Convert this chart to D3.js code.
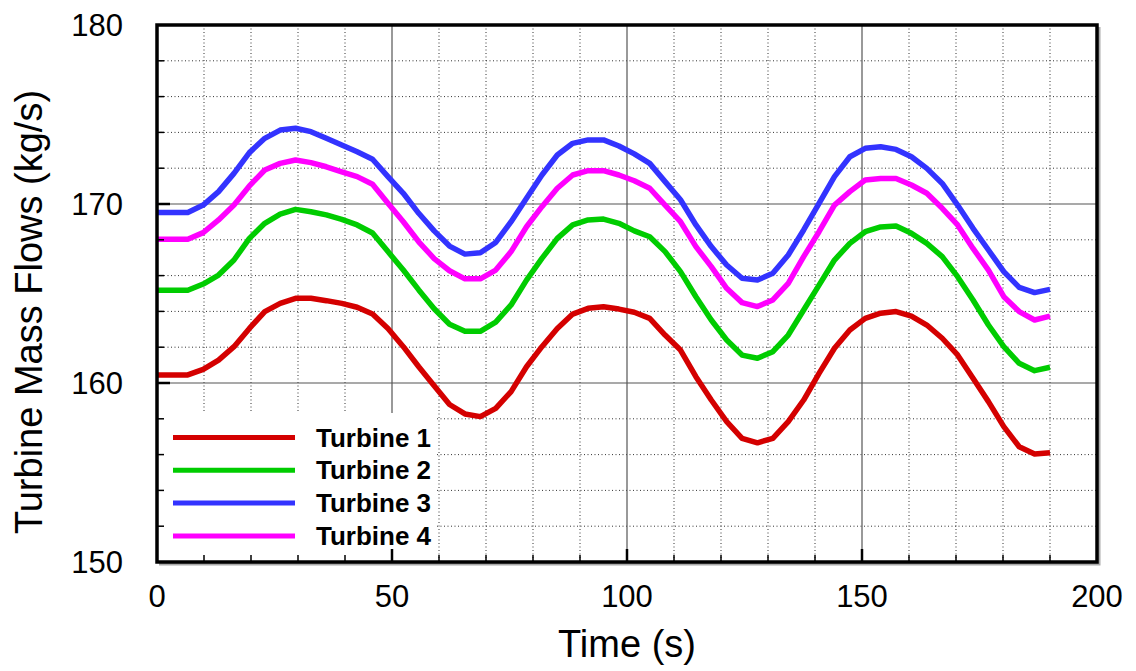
<!DOCTYPE html>
<html>
<head>
<meta charset="utf-8">
<script src="https://cdn.jsdelivr.net/npm/d3@7"></script>
<style>
  html, body { margin: 0; padding: 0; background: #fff; }
  svg { display: block; }
  text { font-family: "Liberation Sans", Arial, Helvetica, sans-serif; fill: #000; }
</style>
</head>
<body>
<svg id="chart" width="1136" height="671"></svg>
<script>
// Sample times (s)
const times = [0, 3.28, 6.55, 9.83, 13.10, 16.38, 19.66, 22.93, 26.21, 29.48, 32.76, 36.03, 39.31,
  42.59, 45.86, 49.14, 52.41, 55.69, 58.97, 62.24, 65.52, 68.79, 72.07, 75.34, 78.62, 81.90,
  85.17, 88.45, 91.72, 95.00, 98.28, 101.55, 104.83, 108.10, 111.38, 114.66, 117.93, 121.21,
  124.48, 127.76, 131.03, 134.31, 137.59, 140.86, 144.14, 147.41, 150.69, 153.97, 157.24,
  160.52, 163.79, 167.07, 170.34, 173.62, 176.90, 180.17, 183.45, 186.72, 190.00];

// Mass flow through each turbine (kg/s)
const turbine1 = [160.45, 160.45, 160.45, 160.76, 161.28, 162.03, 163.05, 163.99, 164.45, 164.73,
  164.73, 164.60, 164.45, 164.23, 163.85, 163.05, 162.03, 160.91, 159.85, 158.80, 158.27, 158.12,
  158.58, 159.52, 160.91, 162.03, 163.05, 163.85, 164.17, 164.26, 164.13, 163.95, 163.61, 162.68,
  161.84, 160.35, 159.05, 157.84, 156.91, 156.66, 156.91, 157.84, 159.05, 160.54, 161.94, 162.96,
  163.61, 163.90, 163.99, 163.74, 163.24, 162.50, 161.57, 160.26, 158.96, 157.56, 156.44, 156.03, 156.10];

const turbine2 = [165.18, 165.18, 165.18, 165.53, 166.03, 166.87, 168.08, 168.92, 169.44, 169.70,
  169.57, 169.39, 169.14, 168.83, 168.38, 167.34, 166.31, 165.20, 164.15, 163.28, 162.89, 162.89,
  163.40, 164.36, 165.75, 166.96, 168.08, 168.83, 169.11, 169.16, 168.92, 168.50, 168.17, 167.34,
  166.22, 164.82, 163.52, 162.40, 161.56, 161.38, 161.75, 162.68, 164.08, 165.47, 166.87, 167.80,
  168.45, 168.72, 168.77, 168.36, 167.80, 167.06, 165.94, 164.64, 163.24, 162.03, 161.10, 160.69, 160.88];

const turbine3 = [169.53, 169.53, 169.53, 169.94, 170.69, 171.71, 172.87, 173.67, 174.13, 174.23,
  174.04, 173.67, 173.30, 172.92, 172.50, 171.53, 170.60, 169.48, 168.50, 167.65, 167.20, 167.28,
  167.85, 169.01, 170.32, 171.62, 172.74, 173.39, 173.58, 173.58, 173.24, 172.80, 172.27, 171.25,
  170.24, 168.83, 167.62, 166.59, 165.85, 165.75, 166.13, 167.15, 168.55, 170.04, 171.53, 172.64,
  173.11, 173.20, 173.05, 172.64, 171.99, 171.15, 169.94, 168.64, 167.43, 166.22, 165.34, 165.05, 165.23];

const turbine4 = [168.03, 168.03, 168.03, 168.40, 169.11, 169.94, 171.01, 171.90, 172.27, 172.46,
  172.31, 172.08, 171.80, 171.53, 171.10, 170.04, 169.01, 167.89, 166.95, 166.27, 165.82, 165.82,
  166.31, 167.34, 168.73, 169.85, 170.88, 171.62, 171.86, 171.86, 171.62, 171.30, 170.88, 169.94,
  169.01, 167.62, 166.50, 165.29, 164.49, 164.27, 164.64, 165.57, 167.06, 168.45, 169.94, 170.69,
  171.34, 171.43, 171.43, 171.06, 170.60, 169.76, 168.83, 167.52, 166.31, 164.82, 163.99, 163.52, 163.74];

const seriesNames = ["Turbine 1", "Turbine 2", "Turbine 3", "Turbine 4"];
const seriesColors = ["#d40000", "#00cc00", "#3333ff", "#ff00ff"];
const seriesValues = [turbine1, turbine2, turbine3, turbine4];

const xMajorTicks = [0, 50, 100, 150, 200];
const yMajorTicks = [150, 160, 170, 180];

const xTitle = "Time (s)";
const yTitle = "Turbine Mass Flows (kg/s)";

// ---- layout ----
const plotL = 157, plotR = 1097, plotT = 25, plotB = 562;
const x = d3.scaleLinear().domain([0, 200]).range([plotL, plotR]);
const y = d3.scaleLinear().domain([150, 180]).range([plotB, plotT]);

const svg = d3.select("#chart");

// minor dotted grid (every 10 s, every 2 kg/s)
const xMinor = d3.range(10, 200, 10).filter(v => v % 50 !== 0);
const yMinor = d3.range(152, 180, 2).filter(v => v % 10 !== 0);

const grid = svg.append("g");
grid.selectAll("line.xm").data(xMinor).join("line")
  .attr("x1", d => x(d)).attr("x2", d => x(d))
  .attr("y1", plotT).attr("y2", plotB)
  .attr("stroke", "#333").attr("stroke-width", 1).attr("stroke-dasharray", "1,2.5");
grid.selectAll("line.ym").data(yMinor).join("line")
  .attr("x1", plotL).attr("x2", plotR)
  .attr("y1", d => y(d)).attr("y2", d => y(d))
  .attr("stroke", "#333").attr("stroke-width", 1).attr("stroke-dasharray", "1,2.5");

// major solid grid
grid.selectAll("line.xM").data([50, 100, 150]).join("line")
  .attr("x1", d => x(d)).attr("x2", d => x(d))
  .attr("y1", plotT).attr("y2", plotB)
  .attr("stroke", "#555").attr("stroke-width", 1.2);
grid.selectAll("line.yM").data([160, 170]).join("line")
  .attr("x1", plotL).attr("x2", plotR)
  .attr("y1", d => y(d)).attr("y2", d => y(d))
  .attr("stroke", "#555").attr("stroke-width", 1.2);

// legend panel covers the grid
const legendTop = 413, legendRight = 436;
svg.append("rect")
  .attr("x", plotL).attr("y", legendTop)
  .attr("width", legendRight - plotL).attr("height", plotB - legendTop)
  .attr("fill", "#fff");

// curves
const line = d3.line()
  .x((d, i) => x(times[i]))
  .y(d => y(d));

svg.append("g").selectAll("path").data(seriesValues).join("path")
  .attr("d", d => line(d))
  .attr("fill", "none")
  .attr("stroke", (d, i) => seriesColors[i])
  .attr("stroke-width", 5.5)
  .attr("stroke-linejoin", "round");

// legend entries
const legend = svg.append("g");
const legendRow = d3.scaleLinear().domain([0, 1]).range([437.5, 470.3]);
seriesNames.forEach((name, i) => {
  const yy = legendRow(i);
  legend.append("line")
    .attr("x1", 173).attr("x2", 295)
    .attr("y1", yy).attr("y2", yy)
    .attr("stroke", seriesColors[i]).attr("stroke-width", 5);
  legend.append("text")
    .attr("x", 316).attr("y", yy + 9)
    .attr("font-size", 26).attr("font-weight", "bold")
    .text(name);
});

// ticks
const ticks = svg.append("g").attr("stroke", "#000");
ticks.selectAll("line.ly").data(yMinor).join("line")
  .attr("x1", plotL).attr("x2", plotL + 7)
  .attr("y1", d => y(d)).attr("y2", d => y(d)).attr("stroke-width", 1.5);
ticks.selectAll("line.lY").data([160, 170]).join("line")
  .attr("x1", plotL).attr("x2", plotL + 13)
  .attr("y1", d => y(d)).attr("y2", d => y(d)).attr("stroke-width", 2.5);
ticks.selectAll("line.bx").data(xMinor).join("line")
  .attr("x1", d => x(d)).attr("x2", d => x(d))
  .attr("y1", plotB).attr("y2", plotB - 7).attr("stroke-width", 1.5);
ticks.selectAll("line.bX").data([50, 100, 150]).join("line")
  .attr("x1", d => x(d)).attr("x2", d => x(d))
  .attr("y1", plotB).attr("y2", plotB - 13).attr("stroke-width", 2.5);

// frame with faint shadow
svg.append("path")
  .attr("d", `M${plotR + 2},${plotT + 2} V${plotB + 2} H${plotL + 2}`)
  .attr("fill", "none").attr("stroke", "#aaa").attr("stroke-width", 3);
svg.append("rect")
  .attr("x", plotL).attr("y", plotT)
  .attr("width", plotR - plotL).attr("height", plotB - plotT)
  .attr("fill", "none").attr("stroke", "#000").attr("stroke-width", 3.5);

// tick labels
svg.append("g").selectAll("text").data(yMajorTicks).join("text")
  .attr("x", 123).attr("y", d => y(d) + 11)
  .attr("text-anchor", "end").attr("font-size", 31)
  .text(d => d);
svg.append("g").selectAll("text").data(xMajorTicks).join("text")
  .attr("x", d => x(d)).attr("y", 607)
  .attr("text-anchor", "middle").attr("font-size", 31)
  .text(d => d);

// axis titles
svg.append("text")
  .attr("x", (plotL + plotR) / 2).attr("y", 657)
  .attr("text-anchor", "middle").attr("font-size", 38)
  .text(xTitle);
svg.append("text")
  .attr("transform", "translate(42,312) rotate(-90)")
  .attr("text-anchor", "middle").attr("font-size", 38)
  .text(yTitle);
</script>
</body>
</html>
